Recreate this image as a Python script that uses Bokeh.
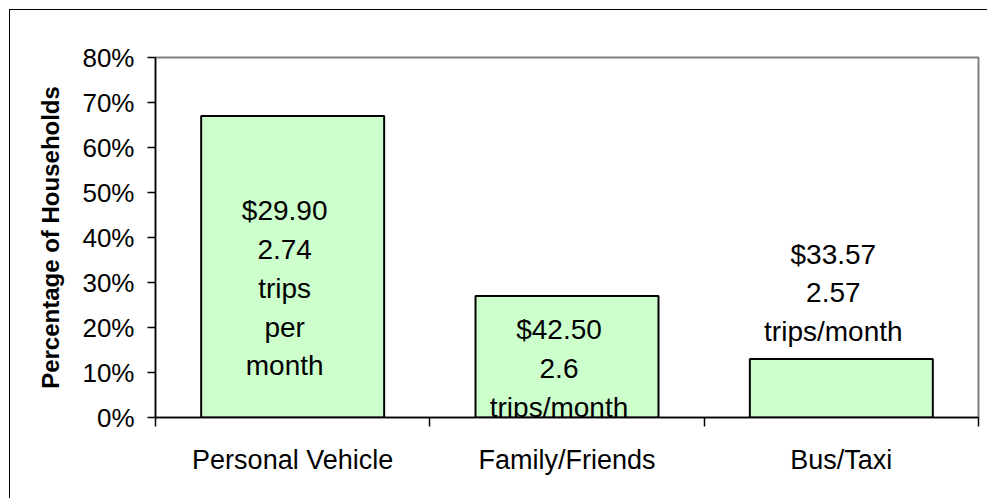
from bokeh.plotting import figure
from bokeh.models import Range1d, FixedTicker, NumeralTickFormatter, ColumnDataSource
from bokeh.embed import file_html
from bokeh.resources import INLINE
from bokeh.core.properties import value

# ---- data ----
categories = ["Personal Vehicle", "Family/Friends", "Bus/Taxi"]
shares = [0.67, 0.27, 0.13]
label_texts = [
    "$29.90\n2.74\ntrips\nper\nmonth",
    "$42.50\n2.6\ntrips/month",
    "$33.57\n2.57\ntrips/month",
]
label_y = [0.287, 0.109, 0.277]
y_ticks = [0.0, 0.1, 0.2, 0.3, 0.4, 0.5, 0.6, 0.7, 0.8]
y_title = "Percentage of Households"

FONT = "Liberation Sans"

x_pos = [i + 0.5 for i in range(len(categories))]
boundaries = [float(i) for i in range(len(categories) + 1)]

src = ColumnDataSource(dict(x=x_pos, share=shares, label=label_texts, ly=label_y))

p = figure(
    width=978, height=489,
    x_range=Range1d(0, len(categories)), y_range=Range1d(y_ticks[0], y_ticks[-1]),
    output_backend="svg", toolbar_location=None,
    min_border_left=145, min_border_right=10, min_border_top=47, min_border_bottom=82,
)
p.styles = {"margin-left": "9px", "margin-top": "9px",
            "border-top": "1.5px solid black", "border-left": "1.5px solid black"}
p.background_fill_color = "white"
p.border_fill_color = "white"
p.outline_line_color = "#808080"
p.outline_line_width = 2
p.xgrid.visible = False
p.ygrid.visible = False

p.vbar(x="x", top="share", width=0.667, source=src,
       fill_color="#CCFFCC", line_color="black", line_width=2)

p.text(x="x", y="ly", text="label", source=src,
       text_align="center", text_baseline="middle",
       text_font=value(FONT), text_font_size="28px", text_line_height=1.25,
       x_offset=-8, text_color="black")

# y axis
ya = p.yaxis[0]
ya.ticker = FixedTicker(ticks=y_ticks)
ya.formatter = NumeralTickFormatter(format="0%")
ya.axis_label = y_title
ya.axis_label_text_font = FONT
ya.axis_label_text_font_style = "bold"
ya.axis_label_text_font_size = "24px"
ya.axis_label_text_color = "black"
ya.axis_label_standoff = 15
ya.major_label_text_font = FONT
ya.major_label_text_font_size = "26px"
ya.major_label_text_color = "black"
ya.major_label_standoff = 13
ya.major_tick_out = 8
ya.major_tick_in = 0
ya.minor_tick_line_color = None
ya.axis_line_color = "black"
ya.axis_line_width = 1.5
ya.major_tick_line_color = "black"
ya.major_tick_line_width = 1.5

# x axis
xa = p.xaxis[0]
xa.ticker = FixedTicker(ticks=x_pos, minor_ticks=boundaries)
xa.major_label_overrides = {x: c for x, c in zip(x_pos, categories)}
xa.major_label_text_font = FONT
xa.major_label_text_font_size = "27px"
xa.major_label_text_color = "black"
xa.major_label_standoff = 18
xa.major_tick_line_color = None
xa.major_tick_out = 0
xa.major_tick_in = 0
xa.minor_tick_out = 9
xa.minor_tick_in = 0
xa.minor_tick_line_color = "black"
xa.minor_tick_line_width = 1.5
xa.axis_line_color = "black"
xa.axis_line_width = 1.5

open("out.html", "w").write(file_html(p, INLINE))
